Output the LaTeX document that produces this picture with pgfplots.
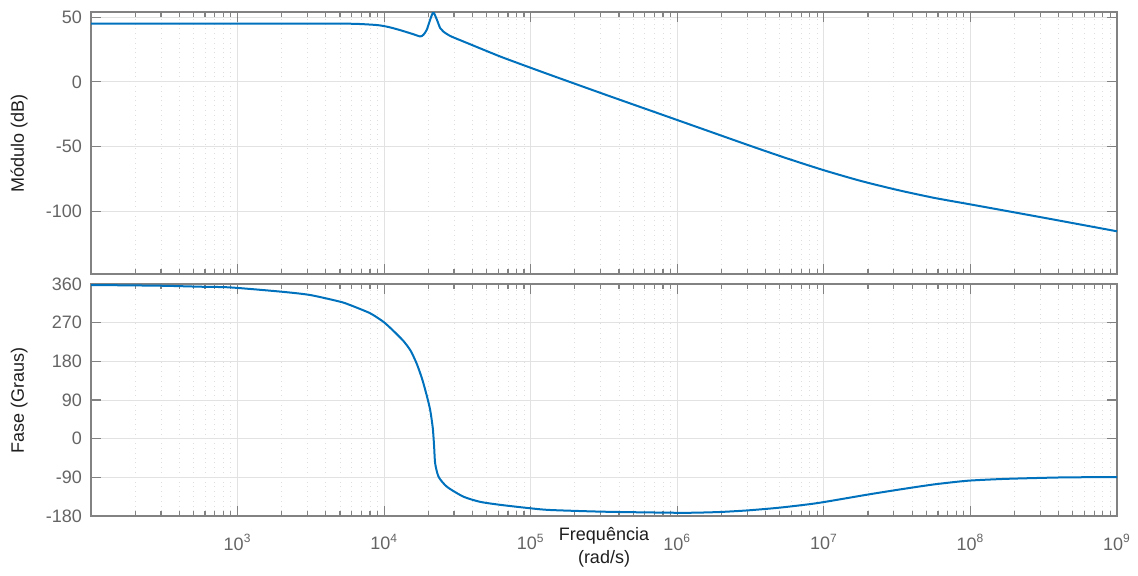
\documentclass[border=0pt]{standalone}
\usepackage{fontspec}
\setmainfont{Liberation Sans}
\usepackage{pgfplots}
\pgfplotsset{compat=1.18}

\definecolor{mblue}{RGB}{0,114,189}
\definecolor{axgray}{RGB}{130,130,130}
\definecolor{tkgray}{RGB}{100,100,100}
\definecolor{grd}{RGB}{226,226,226}
\definecolor{mgrd}{RGB}{222,222,222}
\definecolor{lbl}{RGB}{30,30,30}

\begin{document}
\begin{tikzpicture}
\begin{axis}[name=top, scale only axis, width=513pt, height=131pt,
    xmode=log, xmin=100, xmax=1e9,
    xtick={1e3,1e4,1e5,1e6,1e7,1e8,1e9},
    minor xtick={2e2,3e2,4e2,5e2,6e2,7e2,8e2,9e2,2e3,3e3,4e3,5e3,6e3,7e3,8e3,9e3,2e4,3e4,4e4,5e4,6e4,7e4,8e4,9e4,2e5,3e5,4e5,5e5,6e5,7e5,8e5,9e5,2e6,3e6,4e6,5e6,6e6,7e6,8e6,9e6,2e7,3e7,4e7,5e7,6e7,7e7,8e7,9e7,2e8,3e8,4e8,5e8,6e8,7e8,8e8,9e8},
    axis line style={axgray, line width=0.6pt},
    tick style={axgray, line width=0.6pt},
    tick align=inside, major tick length=5pt, minor tick length=2.5pt,
    xmajorgrids=true, ymajorgrids=true, xminorgrids=true,
    major grid style={grd, line width=0.5pt},
    minor grid style={mgrd, dotted, line width=0.4pt},
    tick label style={font=\fontsize{9}{10}\selectfont, text=tkgray},
    /pgf/number format/assume math mode=true,
    yticklabel style={xshift=-1pt},
    ylabel style={at={(axis description cs:-0.0614,0.5)}, anchor=south,
      inner sep=0pt, font=\fontsize{9}{10}\selectfont, text=lbl},
    ymin=-148.5, ymax=54, ytick={-100,-50,0,50},
    xticklabels={},
    ylabel={Módulo (dB)}]
\addplot[mblue, line width=1pt, smooth, tension=0.4] coordinates {
(100,45) (1000,45) (3162,45) (6138,44.9) (8954,43.9) (10720,42.4) (12850,40)
(15850,36.8) (17620,35.1) (18540,36.4) (19540,40.3) (20800,49.4) (21680,53.7)
(22910,48) (24100,41.6) (25290,39) (28180,35.5) (36900,30) (61940,19.6)
(99310,11) (135800,5.4) (316200,-9.5) (1e6,-29.5) (3.162e6,-49.5)
(5.623e6,-59.2) (1e7,-68.3) (1.778e7,-76.5) (3.162e7,-83.5) (5.623e7,-89.6)
(1e8,-94.7) (3.162e8,-105) (1e9,-115.5)
};
\end{axis}
\begin{axis}[at={(top.south west)}, anchor=north west, yshift=-5pt,
    scale only axis, width=513pt, height=116pt,
    xmode=log, xmin=100, xmax=1e9,
    xtick={1e3,1e4,1e5,1e6,1e7,1e8,1e9},
    minor xtick={2e2,3e2,4e2,5e2,6e2,7e2,8e2,9e2,2e3,3e3,4e3,5e3,6e3,7e3,8e3,9e3,2e4,3e4,4e4,5e4,6e4,7e4,8e4,9e4,2e5,3e5,4e5,5e5,6e5,7e5,8e5,9e5,2e6,3e6,4e6,5e6,6e6,7e6,8e6,9e6,2e7,3e7,4e7,5e7,6e7,7e7,8e7,9e7,2e8,3e8,4e8,5e8,6e8,7e8,8e8,9e8},
    axis line style={axgray, line width=0.6pt},
    tick style={axgray, line width=0.6pt},
    tick align=inside, major tick length=5pt, minor tick length=2.5pt,
    xmajorgrids=true, ymajorgrids=true, xminorgrids=true,
    major grid style={grd, line width=0.5pt},
    minor grid style={mgrd, dotted, line width=0.4pt},
    tick label style={font=\fontsize{9}{10}\selectfont, text=tkgray},
    /pgf/number format/assume math mode=true,
    yticklabel style={xshift=-1pt},
    ylabel style={at={(axis description cs:-0.0614,0.5)}, anchor=south,
      inner sep=0pt, font=\fontsize{9}{10}\selectfont, text=lbl},
    ymin=-180, ymax=360, ytick={-180,-90,0,90,180,270,360},
    xticklabels={10\textsuperscript{3},10\textsuperscript{4},10\textsuperscript{5},10\textsuperscript{6},10\textsuperscript{7},10\textsuperscript{8},10\textsuperscript{9}},
    xticklabel style={yshift=-5.5pt},
    ylabel={Fase (Graus)},
    xlabel={Frequência\\(rad/s)},
    xlabel style={at={(axis description cs:0.5,-0.0474)}, anchor=north,
      inner sep=0pt, align=center, font=\fontsize{9}{11.5}\selectfont, text=lbl}]
\addplot[mblue, line width=1pt, smooth, tension=0.4] coordinates {
(100,357.7) (300,356) (554.6,353.7) (899.5,352) (2004,342) (3126,334.4)
(5012,318.8) (5861,311) (8017,292) (9886,272) (11480,252) (13490,228)
(15140,205) (16710,174) (18200,138) (19540,100) (20610,66.7) (21480,24)
(21930,-18.7) (22280,-57.3) (23500,-88.5) (26790,-111.8) (34750,-135)
(45190,-147) (61940,-154) (99310,-162) (135800,-166) (316200,-170)
(1e6,-172.5) (1.439e6,-172) (2e6,-170.5) (3e6,-167) (5e6,-160.5)
(9e6,-150) (2e7,-130) (3.327e7,-118) (5.623e7,-106.5) (9.484e7,-98)
(1.603e8,-94) (2.5e8,-92) (4.571e8,-90) (1e9,-89.5)
};
\end{axis}
\pgfresetboundingbox
\path[use as bounding box] (top.north west) ++(-45.5pt,6pt) rectangle ++(569pt,-287.5pt);
\end{tikzpicture}
\end{document}
